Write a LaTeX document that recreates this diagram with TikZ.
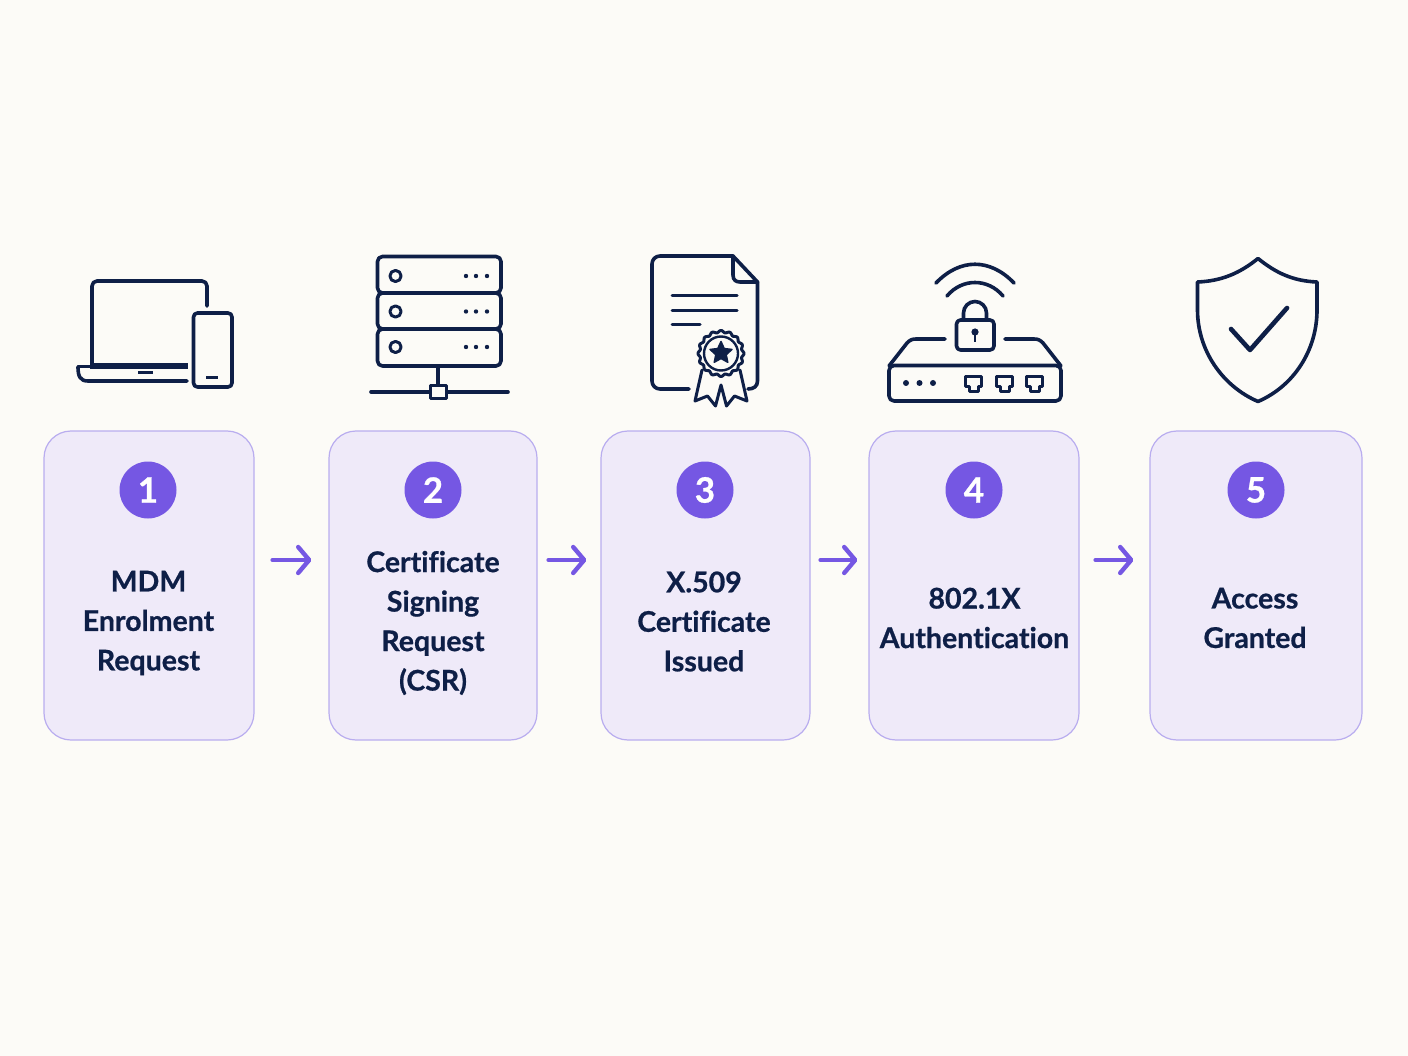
\documentclass[tikz,border=0pt]{standalone}
\usepackage{fontspec}
\setmainfont{Lato}[Ligatures=NoCommon,BoldFeatures={FakeBold=0.7}]
\usetikzlibrary{arrows.meta,shapes.geometric,calc}
\definecolor{bgc}{HTML}{FCFBF7}
\definecolor{navy}{HTML}{0E1F47}
\definecolor{cardfill}{HTML}{EFEAF9}
\definecolor{cardline}{HTML}{B9ADEF}
\definecolor{accent}{HTML}{7557E3}
\tikzset{
 card/.style={draw=cardline,fill=cardfill,line width=1.2pt,rounded corners=27pt,minimum height=309pt,inner sep=0pt},
 badge/.style={circle,fill=accent,minimum size=57pt,inner sep=0pt,text=white,font=\bfseries\fontsize{35}{35}\selectfont},
 label/.style={align=center,text=navy,inner sep=0pt,font=\bfseries\fontsize{28.5}{39.5}\selectfont},
 flow/.style={draw=accent,line width=4.4pt,line cap=round,line join=round,-{Straight Barb[length=11pt,width=26pt,round]}},
 icon/.style={draw=navy,line width=3.6pt,line cap=round,line join=round},
 thin icon/.style={draw=navy,line width=3pt,line cap=round,line join=round},
}
\begin{document}
\begin{tikzpicture}[x=1pt,y=-1pt]
\useasboundingbox (0,0) rectangle (1408,1056);
\fill[bgc] (0,0) rectangle (1408,1056);
% cards
\node[card,minimum width=210pt] (c1) at (149,585.5) {};
\node[card,minimum width=208pt] (c2) at (433,585.5) {};
\node[card,minimum width=209pt] (c3) at (705.5,585.5) {};
\node[card,minimum width=210pt] (c4) at (974,585.5) {};
\node[card,minimum width=212pt] (c5) at (1256,585.5) {};
% badges
\node[badge] (b1) at (148,490) {1};
\node[badge] (b2) at (433,490) {2};
\node[badge] (b3) at (705,490) {3};
\node[badge] (b4) at (974,490) {4};
\node[badge] (b5) at (1256,490) {5};
% labels
\node[label] (t1) at (148.5,623) {MDM\\Enrolment\\Request};
\node[label] (t2) at (433,623) {Certificate\\Signing\\Request\\(CSR)};
\node[label] (t3) at (704,621.5) {X.509\\Certificate\\Issued};
\node[label] (t4) at (974.5,618) {802.1X\\Authentication};
\node[label] (t5) at (1255,618) {Access\\Granted};
% arrows
\draw[flow] ([shift={(18,-25.5)}]c1.east) -- ([shift={(-17,-25.5)}]c2.west);
\draw[flow] ([shift={(11,-25.5)}]c2.east) -- ([shift={(-14,-25.5)}]c3.west);
\draw[flow] ([shift={(10,-25.5)}]c3.east) -- ([shift={(-11,-25.5)}]c4.west);
\draw[flow] ([shift={(16,-25.5)}]c4.east) -- ([shift={(-16,-25.5)}]c5.west);
% laptop and phone
\draw[icon] (92,365) -- (92,286) arc[start angle=180,end angle=270,radius=5] -- (202,281) arc[start angle=270,end angle=360,radius=5] -- (207,306);
\draw[navy,line width=5.5pt] (90,366) -- (188,366);
\draw[thin icon] (78,367) -- (90,367);
\draw[icon] (78,367) .. controls (78,376) and (80,381) .. (88,381) -- (187,381);
\draw[thin icon,line cap=butt] (138,373) -- (153,373);
\draw[icon,rounded corners=4pt] (193.5,313) rectangle (232,387);
\draw[thin icon,line cap=butt] (206,377.5) -- (218,377.5);
% server
\draw[icon,rounded corners=5pt] (377.5,256.5) rectangle (501,293);
\draw[icon,rounded corners=5pt] (377.5,293) rectangle (501,329);
\draw[icon,rounded corners=5pt] (377.5,329) rectangle (501,366);
\foreach \y in {276,311.5,347}{
 \draw[thin icon] (395.5,\y) circle[radius=5.6];
 \foreach \x in {466,476,487}{\fill[navy] (\x,\y) circle[radius=2.2];}
}
\draw[icon] (371,392) -- (508,392);
\draw[icon] (438,366) -- (438,386);
\draw[thin icon,fill=bgc] (430.5,386) rectangle (446.5,398.5);
% certificate
\draw[icon] (689,389) -- (660,389) arc[start angle=90,end angle=180,radius=8] -- (652,264) arc[start angle=180,end angle=270,radius=8] -- (733,256) -- (757.5,282) -- (757.5,381) .. controls (757.5,386) and (754,389) .. (748,389);
\draw[icon] (733,256) -- (733,275) .. controls (733,280) and (736,282) .. (740,282) -- (757.5,282);
\draw[thin icon] (672,296) -- (737,296);
\draw[thin icon] (672,310.5) -- (737,310.5);
\draw[thin icon] (672,325) -- (700,325);
\draw[thin icon,fill=bgc] (702,370) -- (695,401) -- (707.5,396) -- (715.5,406) -- (721,385) -- (726.5,406) -- (734.5,396) -- (747,401) -- (740,370);
\draw[thin icon,fill=bgc] plot[domain=0:360,samples=181,smooth] ({721+(22+1*cos(16*\x))*cos(\x)},{353.5+(22+1*cos(16*\x))*sin(\x)}) -- cycle;
\draw[navy,line width=2.4pt] (721,353.5) circle[radius=17];
\node[star,star points=5,star point ratio=2.1,fill=navy,draw=navy,line width=1.5pt,line join=round,minimum size=23pt,inner sep=0pt] (sealstar) at (721,353) {};
% router
\draw[icon] (936,283) .. controls (960,258) and (990,258) .. (1014,283);
\draw[icon] (947,296) .. controls (962,278) and (988,278) .. (1003,296);
\draw[icon,rounded corners=4pt] (956.5,320) rectangle (994,350);
\draw[icon] (963.5,320) -- (963.5,313) arc[start angle=180,end angle=360,radius=11.5] -- (986.5,320);
\fill[navy] (975,332) circle[radius=3.6];
\draw[navy,line width=2.6pt] (975,332) -- (975,342);
\draw[icon] (945,339) -- (916,339) .. controls (912,339) and (910,340) .. (907,343) -- (889,366);
\draw[icon] (1005,339) -- (1034,339) .. controls (1038,339) and (1040,340) .. (1043,343) -- (1061,366);
\draw[icon,rounded corners=5pt] (889,365.5) rectangle (1061,401);
\foreach \x in {906,919.5,933}{\fill[navy] (\x,383) circle[radius=3];}
\foreach \x in {965.5,996.5,1026.5}{
 \draw[thin icon] (\x,376.5) -- ++(16,0) -- ++(0,10) -- ++(-3.5,0) -- ++(0,5) -- ++(-9,0) -- ++(0,-5) -- ++(-3.5,0) -- cycle;
}
% shield
\draw[icon] (1258,258.5) .. controls (1240,273) and (1222,281) .. (1197.5,282) -- (1197.5,310) .. controls (1197.5,350) and (1222,386) .. (1258,401.5) .. controls (1294,386) and (1317,350) .. (1317,310) -- (1317,282) .. controls (1293,281) and (1276,273) .. (1258,258.5) -- cycle;
\draw[icon,line width=4.6pt] (1231,329) -- (1250,350) -- (1287,308);
\end{tikzpicture}
\end{document}
